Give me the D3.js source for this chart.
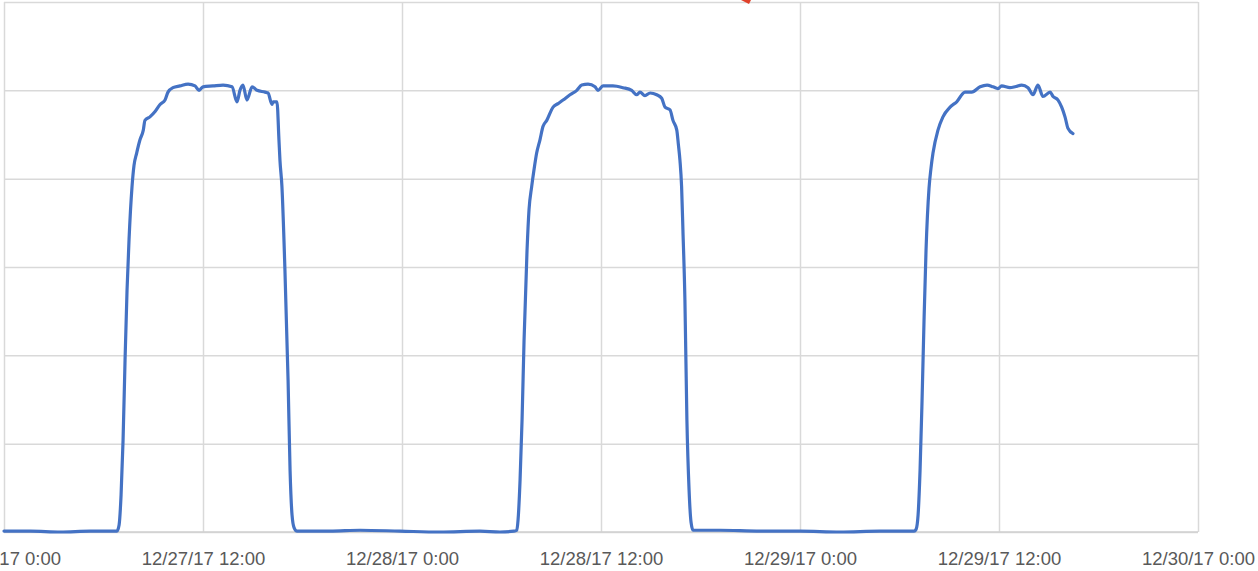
<!DOCTYPE html>
<html>
<head>
<meta charset="utf-8">
<script src="https://cdn.jsdelivr.net/npm/d3@7"></script>
<style>
  html, body { margin: 0; padding: 0; background: #ffffff; }
  svg { display: block; }
</style>
</head>
<body>
<svg id="chart" width="1258" height="571"></svg>
<script>
// ---- Data ----
const startTime = "2017-12-27T00:00:00";
const endTime = "2017-12-30T00:00:00";
// hours since 12/27/17 0:00
const hours = [
  0, 1.6, 3.4, 5.2, 6.4, 6.81, 6.94, 7.06, 7.18, 7.30, 7.42, 7.54, 7.72, 7.84, 8.00, 8.20, 8.40, 8.50, 8.80, 9.11, 9.41, 9.71, 9.89,
  10.19, 10.61, 11.10, 11.52, 11.76, 12.00, 12.60, 13.21, 13.75, 14.05, 14.23, 14.41, 14.65, 14.96, 15.26, 15.74, 15.92,
  16.16, 16.22, 16.46, 16.58, 16.64, 16.76, 16.94, 17.13, 17.25, 17.37, 17.49, 17.67,
  19.66, 21.47, 23.88, 26.29, 28.70, 29.91, 30.75,
  30.92, 31.00, 31.12, 31.24, 31.36, 31.54, 31.66, 31.82, 31.96, 32.12, 32.32, 32.50, 32.73, 33.11, 33.41, 33.71, 34.13,
  34.54, 34.84, 35.22, 35.64, 35.82, 36.12, 36.72, 37.33, 37.85, 38.15, 38.35, 38.65, 38.96, 39.36, 39.66, 39.86, 40.16,
  40.34, 40.57, 40.67, 40.76, 40.86, 40.94, 41.06, 41.18, 41.31, 41.43, 41.55,
  43.18, 45.59, 48.00, 50.41, 52.82, 54.33, 54.88,
  55.00, 55.12, 55.24, 55.36, 55.48, 55.60, 55.78, 55.90, 56.02, 56.32, 56.62, 57.05, 57.45, 57.95, 58.36, 58.86, 59.28,
  59.64, 59.94, 60.16, 60.66, 60.97, 61.37, 61.75, 62.05, 62.35, 62.65, 63.08, 63.26, 63.56, 63.78, 63.98, 64.16, 64.46
];
const values = [
  0.01, 0.01, 0.00, 0.01, 0.01, 0.01, 0.08, 0.42, 1.04, 1.95, 2.74, 3.31, 3.91, 4.15, 4.29, 4.44, 4.55, 4.66, 4.70, 4.76, 4.84, 4.89, 4.98,
  5.03, 5.05, 5.07, 5.05, 5.00, 5.04, 5.05, 5.06, 5.04, 4.87, 5.00, 5.06, 4.89, 5.04, 5.00, 4.98, 4.97,
  4.84, 4.87, 4.87, 4.44, 4.21, 3.91, 2.97, 1.72, 0.70, 0.19, 0.05, 0.01,
  0.01, 0.02, 0.01, 0.00, 0.01, 0.00, 0.01,
  0.02, 0.14, 0.59, 1.27, 2.17, 3.19, 3.65, 3.91, 4.10, 4.29, 4.44, 4.59, 4.66, 4.81, 4.85, 4.89, 4.95,
  5.00, 5.06, 5.07, 5.04, 5.00, 5.05, 5.05, 5.03, 5.00, 4.95, 4.98, 4.94, 4.97, 4.95, 4.91, 4.81, 4.78,
  4.66, 4.55, 4.38, 4.21, 3.91, 3.42, 2.63, 1.27, 0.48, 0.11, 0.02,
  0.02, 0.01, 0.01, 0.00, 0.01, 0.01, 0.01,
  0.03, 0.19, 0.70, 1.49, 2.40, 3.19, 3.89, 4.12, 4.29, 4.55, 4.70, 4.81, 4.87, 4.98, 4.98, 5.04, 5.06,
  5.04, 5.02, 5.05, 5.03, 5.04, 5.06, 5.03, 4.95, 5.06, 4.93, 4.98, 4.93, 4.89, 4.81, 4.70, 4.57, 4.51
];
const yTicks = [0, 1, 2, 3, 4, 5, 6];
const xTickHours = [0, 12, 24, 36, 48, 60, 72];

// ---- Layout ----
const svg = d3.select("#chart");
const plotLeft = 4, plotRight = 1198, plotTop = 2, plotBottom = 532;
const t0 = new Date(startTime);
const toDate = h => new Date(t0.getTime() + h * 3600000);

const x = d3.scaleTime().domain([t0, new Date(endTime)]).range([plotLeft, plotRight]);
const y = d3.scaleLinear().domain([0, 6]).range([plotBottom, plotTop]);

const data = hours.map((h, i) => ({ t: toDate(h), v: values[i] }));

// horizontal gridlines
svg.append("g")
  .attr("transform", `translate(${plotLeft},0)`)
  .call(d3.axisLeft(y).tickValues(yTicks).tickSize(-(plotRight - plotLeft)).tickFormat(""))
  .call(g => g.select(".domain").remove())
  .call(g => g.selectAll(".tick line").attr("stroke", "#d9d9d9").attr("stroke-width", 1.5));

// vertical gridlines + labels
const fmt = d3.timeFormat("%m/%d/%y %-H:%M");
const xAxis = svg.append("g")
  .attr("transform", `translate(0,${plotBottom})`)
  .call(d3.axisBottom(x).tickValues(xTickHours.map(toDate)).tickSize(-(plotBottom - plotTop)).tickPadding(20).tickFormat(fmt));
xAxis.select(".domain").remove();
xAxis.selectAll(".tick line").attr("stroke", "#d9d9d9").attr("stroke-width", 1.5);
xAxis.selectAll(".tick text")
  .attr("fill", "#595959")
  .style("font-family", "'Liberation Sans', Arial, sans-serif")
  .style("font-size", "18.5px");

// bottom axis line
svg.append("line")
  .attr("x1", plotLeft).attr("x2", plotRight).attr("y1", plotBottom).attr("y2", plotBottom)
  .attr("stroke", "#d0d0d0").attr("stroke-width", 1.5);

// series line
const line = d3.line().x(d => x(d.t)).y(d => y(d.v)).curve(d3.curveMonotoneX);
svg.append("path")
  .datum(data)
  .attr("fill", "none")
  .attr("stroke", "#4472c4")
  .attr("stroke-width", 3.2)
  .attr("stroke-linejoin", "round")
  .attr("stroke-linecap", "round")
  .attr("d", line);

// small red mark at top edge (clipped annotation arrow)
svg.append("path")
  .attr("d", "M741,0 L751,0 L749,4 Z")
  .attr("fill", "#e0402a");
</script>
</body>
</html>
